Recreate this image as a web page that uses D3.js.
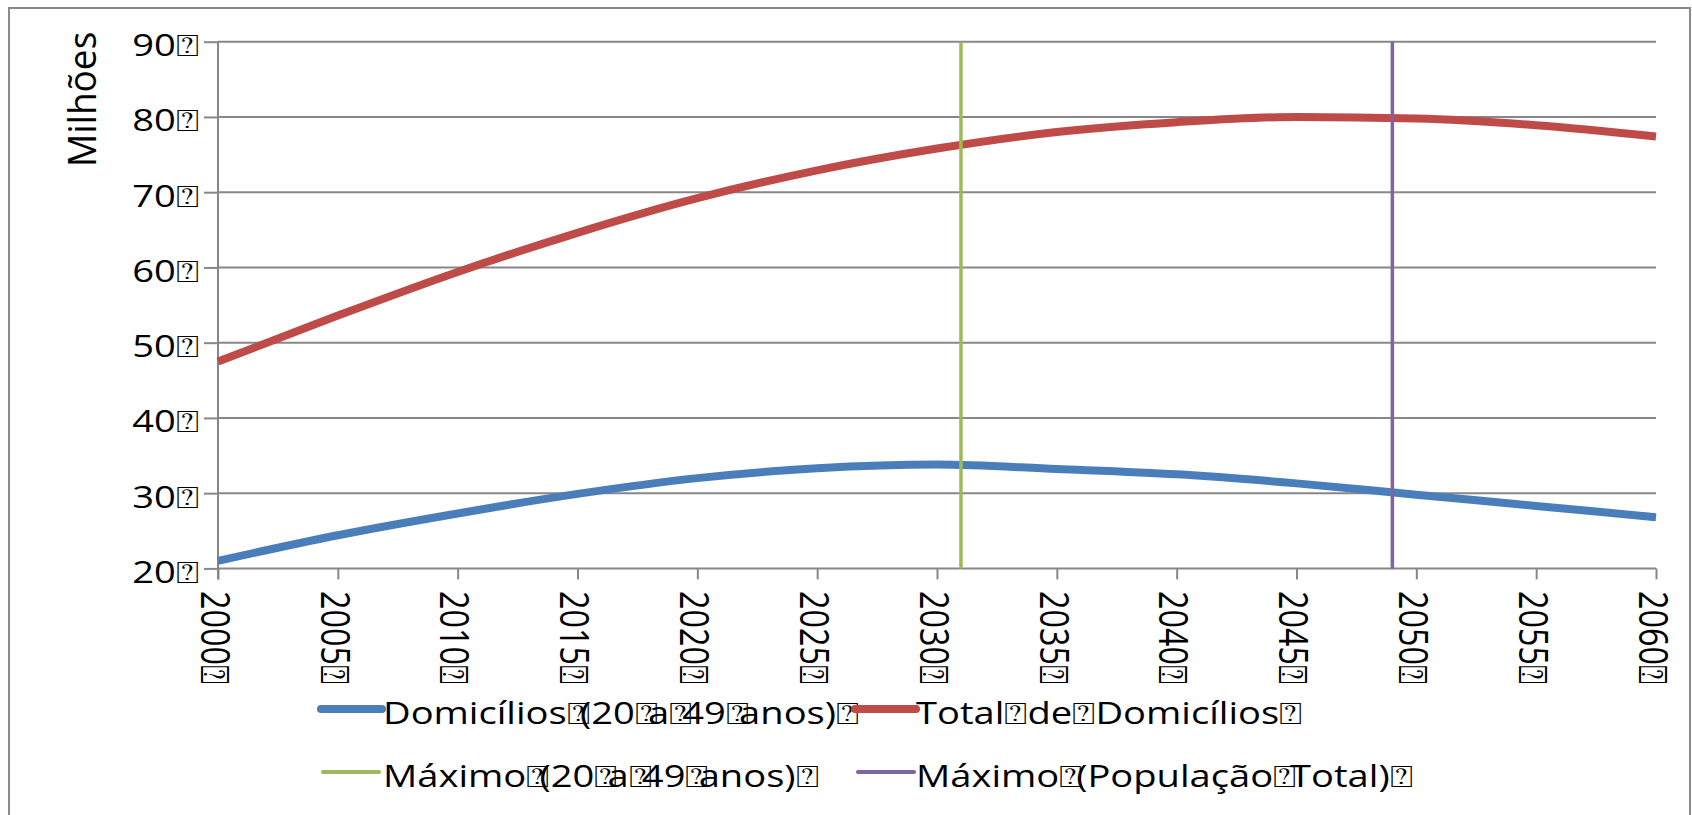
<!DOCTYPE html>
<html>
<head>
<meta charset="utf-8">
<script src="https://cdn.jsdelivr.net/npm/d3@7"></script>
<style>
  html, body { margin: 0; padding: 0; background: #ffffff; }
  svg { display: block; }
  text { font-family: "Open Sans", "DejaVu Sans", sans-serif; fill: #000; }
</style>
</head>
<body>
<svg id="chart" width="1692" height="815"></svg>
<script>
// Household projections, Brazil (millions)
const years = [2000, 2005, 2010, 2015, 2020, 2025, 2030, 2035, 2040, 2045, 2050, 2055, 2060];
const domicilios2049 = [21.0, 24.4, 27.3, 29.9, 32.0, 33.3, 33.8, 33.2, 32.5, 31.3, 29.8, 28.3, 26.8];
const totalDomicilios = [47.5, 53.6, 59.4, 64.6, 69.2, 72.9, 75.8, 78.0, 79.3, 80.0, 79.8, 78.9, 77.4];

// Peak years drawn as vertical reference lines
const maximo2049Year = 2031;
const maximoTotalYear = 2049;
const markerSpan = [20, 90];

const yTicks = [20, 30, 40, 50, 60, 70, 80, 90];
const xTicks = [2000, 2005, 2010, 2015, 2020, 2025, 2030, 2035, 2040, 2045, 2050, 2055, 2060];
const BOX = "\u2370";
const yTickLabels = yTicks.map(v => v + BOX);
const xTickLabels = xTicks.map(v => v + BOX);

const legendItems = [
  { label: "Domicílios" + BOX + "(20" + BOX + "a" + BOX + "49" + BOX + "anos)" + BOX, color: "#4a7ebb", width: 8, gap: -8 },
  { label: "Total" + BOX + "de" + BOX + "Domicílios" + BOX, color: "#be4b48", width: 8, gap: 0 },
  { label: "Máximo" + BOX + "(20" + BOX + "a" + BOX + "49" + BOX + "anos)" + BOX, color: "#9bbb59", width: 4, gap: -8 },
  { label: "Máximo" + BOX + "(População" + BOX + "Total)" + BOX, color: "#8064a2", width: 4, gap: -5 }
];

const svg = d3.select("#chart");
const GRID = "#878787";
const SX = 1.25; // horizontal glyph stretch

svg.append("rect").attr("x", 0).attr("y", 0).attr("width", 1692).attr("height", 815).attr("fill", "#fff");
svg.append("rect")
  .attr("x", 9).attr("y", 8).attr("width", 1681).attr("height", 900)
  .attr("fill", "none").attr("stroke", "#8a8a8a").attr("stroke-width", 2);

const x = d3.scaleLinear().domain([2000, 2060]).range([218, 1656]);
const y = d3.scaleLinear().domain([20, 90]).range([568.4, 41.7]);

// horizontal gridlines
svg.append("g").selectAll("line").data(yTicks).join("line")
  .attr("x1", x(2000)).attr("x2", x(2060))
  .attr("y1", d => y(d)).attr("y2", d => y(d))
  .attr("stroke", GRID).attr("stroke-width", 2);

// y axis with outward ticks
const yAxis = d3.axisLeft(y).tickValues(yTicks).tickSize(14).tickFormat(() => "");
const gy = svg.append("g").attr("transform", `translate(${x(2000)},0)`).call(yAxis);
gy.select(".domain").remove();
gy.selectAll(".tick line").attr("stroke", GRID).attr("stroke-width", 2);
svg.append("line")
  .attr("x1", x(2000)).attr("x2", x(2000))
  .attr("y1", y(90)).attr("y2", y(20) + 11)
  .attr("stroke", GRID).attr("stroke-width", 2);

// x axis ticks
const xAxis = d3.axisBottom(x).tickValues(xTicks).tickSize(11).tickFormat(() => "");
const gx = svg.append("g").attr("transform", `translate(0,${y(20)})`).call(xAxis);
gx.select(".domain").remove();
gx.selectAll(".tick line").attr("stroke", GRID).attr("stroke-width", 2);

// y tick labels
svg.append("g").selectAll("text").data(yTicks).join("text")
  .attr("transform", d => `translate(199,${y(d) + 14.5}) scale(${SX},1)`)
  .attr("text-anchor", "end")
  .style("font-size", "30.5px")
  .text((d, i) => yTickLabels[i]);

// x tick labels, rotated to read downward
svg.append("g").selectAll("text").data(xTicks).join("text")
  .attr("transform", d => `translate(${x(d) - 17.3},591) scale(${SX},1) rotate(90)`)
  .attr("text-anchor", "start")
  .style("font-size", "32.3px")
  .text((d, i) => xTickLabels[i]);

// y axis title
svg.append("text")
  .attr("transform", "translate(96,167) scale(1.05,1) rotate(-90)")
  .attr("text-anchor", "start")
  .style("font-size", "37px")
  .text("Milhões");

// series
const line = d3.line().x(d => x(d[0])).y(d => y(d[1])).curve(d3.curveMonotoneX);
svg.append("path")
  .datum(years.map((yr, i) => [yr, domicilios2049[i]]))
  .attr("d", line).attr("fill", "none")
  .attr("stroke", legendItems[0].color).attr("stroke-width", 8);
svg.append("path")
  .datum(years.map((yr, i) => [yr, totalDomicilios[i]]))
  .attr("d", line).attr("fill", "none")
  .attr("stroke", legendItems[1].color).attr("stroke-width", 8);

// peak markers
[[maximo2049Year, legendItems[2].color], [maximoTotalYear, legendItems[3].color]].forEach(([yr, c]) => {
  svg.append("path")
    .datum(markerSpan.map(v => [yr, v]))
    .attr("d", d3.line().x(d => x(d[0])).y(d => y(d[1])))
    .attr("fill", "none").attr("stroke", c).attr("stroke-width", 3.5);
});

// legend
const legendPos = [
  { lx: 321, ty: 724 }, { lx: 855, ty: 724 },
  { lx: 323, ty: 787 }, { lx: 858, ty: 787 }
];
legendItems.forEach((it, i) => {
  const p = legendPos[i];
  const g = svg.append("g");
  const len = it.width > 5 ? 61 : 56;
  g.append("line")
    .attr("x1", p.lx).attr("x2", p.lx + len)
    .attr("y1", p.ty - 15).attr("y2", p.ty - 15)
    .attr("stroke", it.color).attr("stroke-width", it.width)
    .attr("stroke-linecap", "round");
  const t = g.append("text")
    .attr("transform", `translate(${i % 2 === 0 ? 383 : 916},${p.ty}) scale(${SX},1)`)
    .style("font-size", "30.5px");
  const parts = it.label.split(BOX);
  parts.forEach((part, k) => {
    if (part.length) t.append("tspan").attr("dx", k > 0 ? it.gap : 0).text(part);
    if (k < parts.length - 1) t.append("tspan").text(BOX);
  });
});
</script>
</body>
</html>
